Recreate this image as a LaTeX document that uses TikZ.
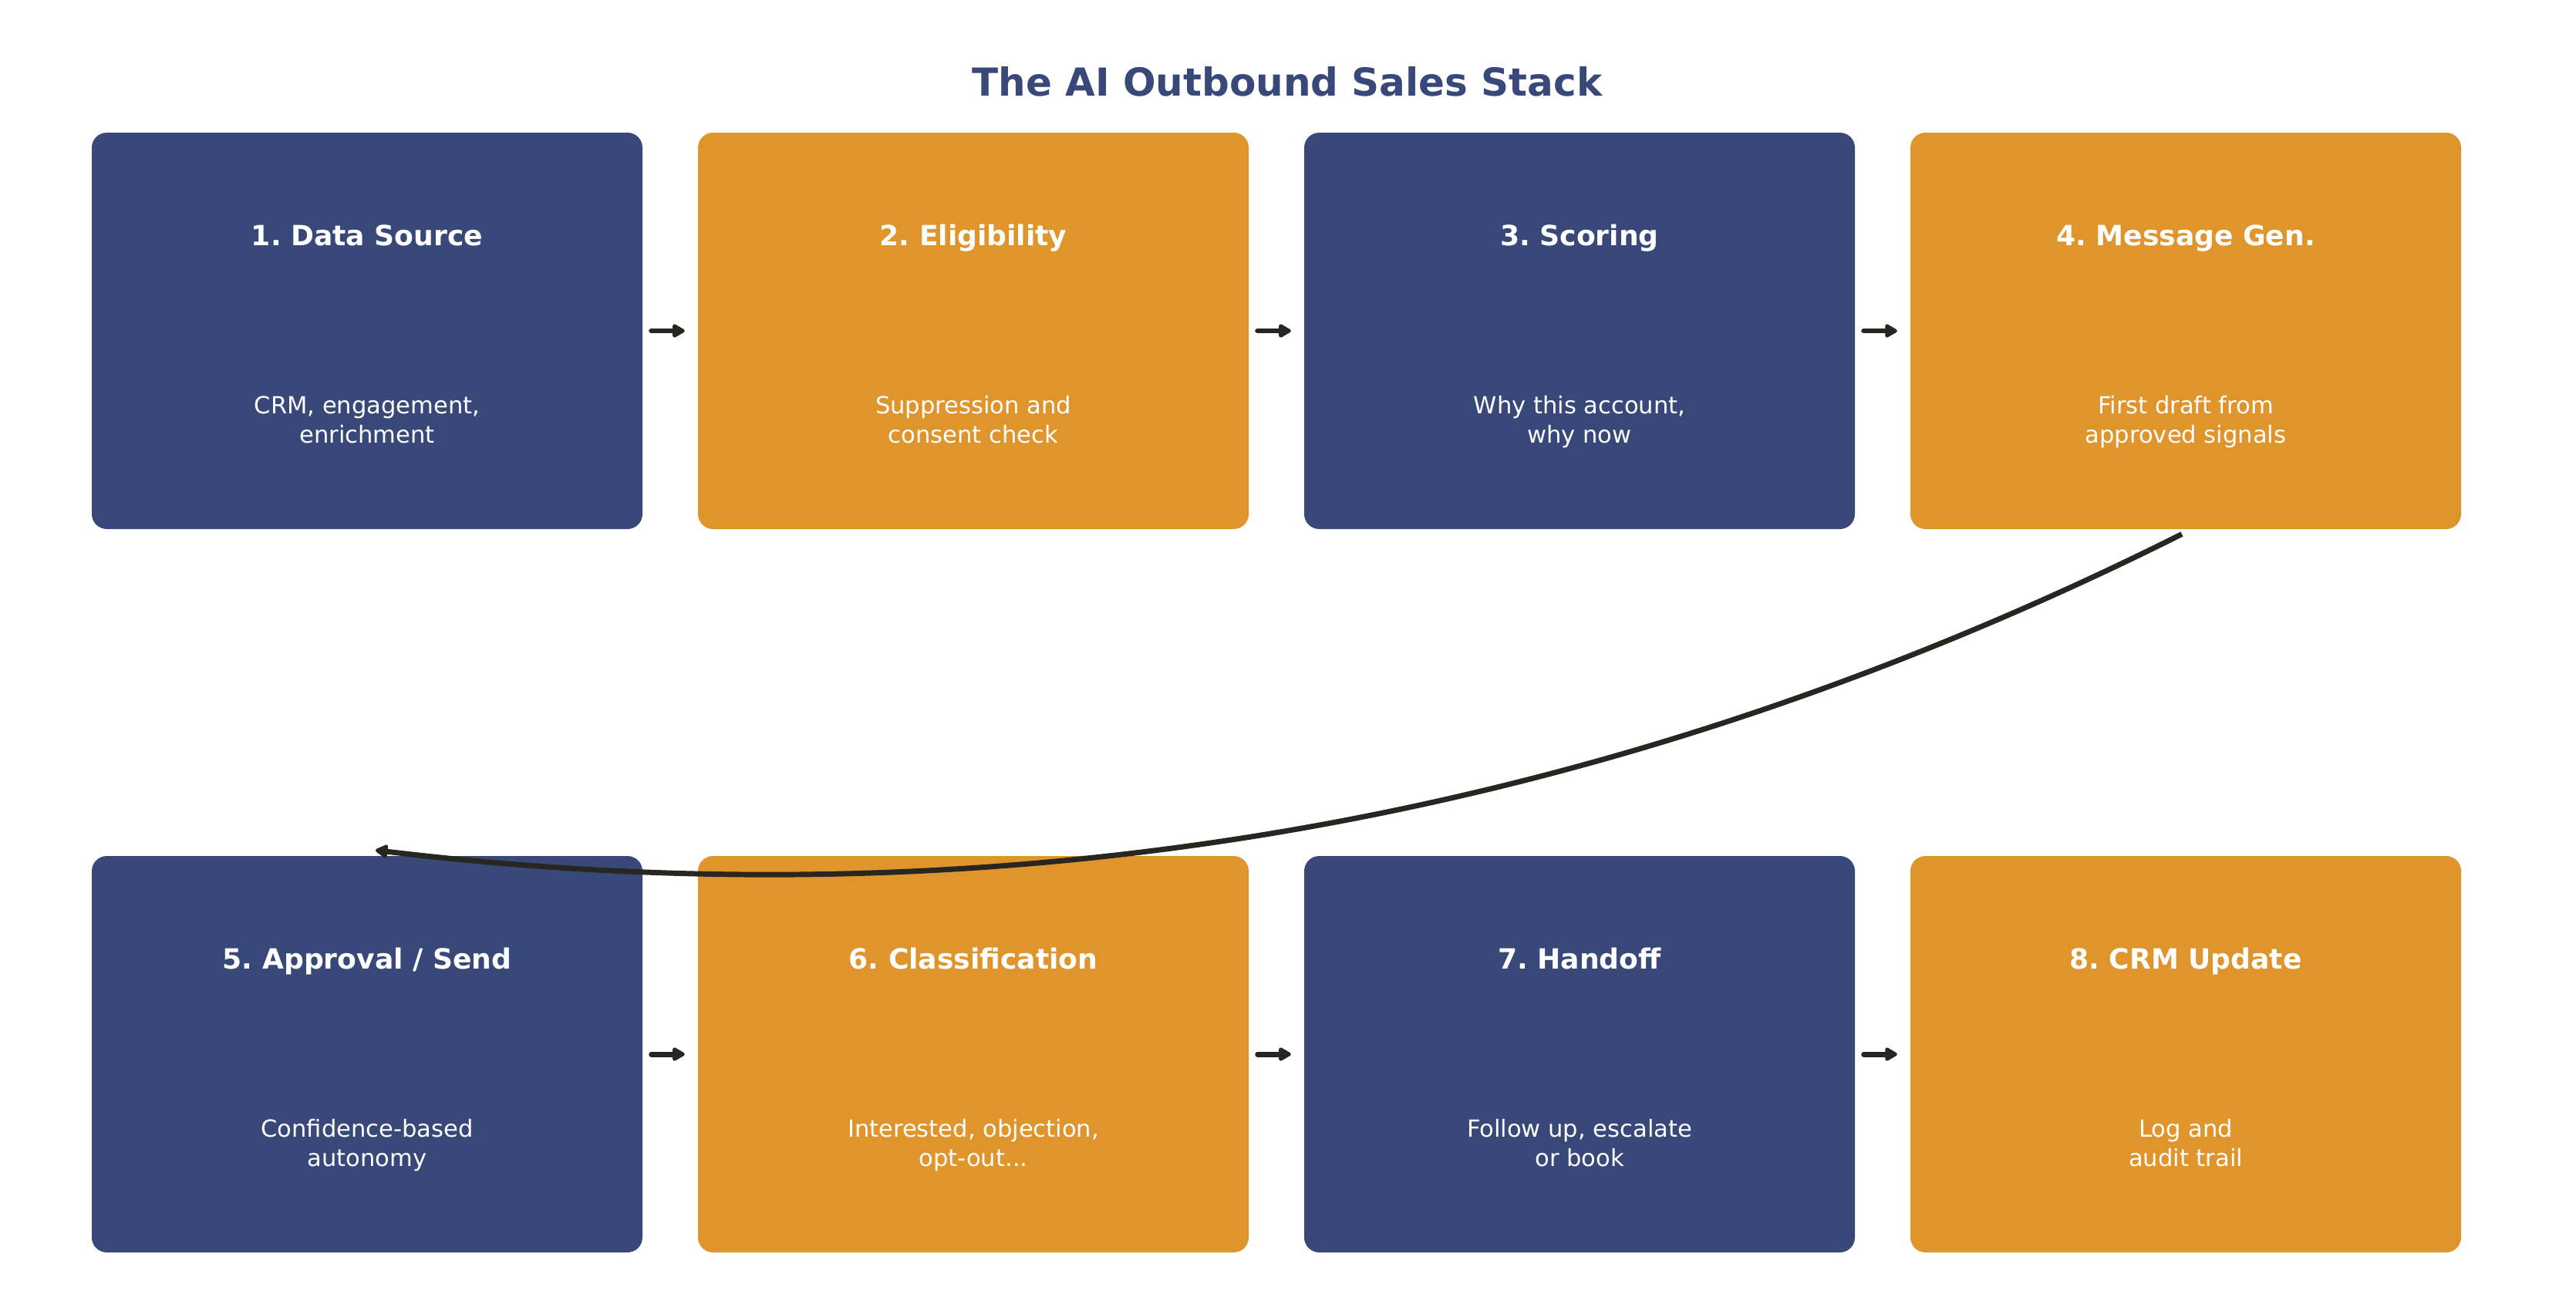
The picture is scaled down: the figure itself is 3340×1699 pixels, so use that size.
\documentclass[tikz,border=0pt]{standalone}
\usepackage{fontspec}
\setmainfont{DejaVu Sans}
\usetikzlibrary{arrows.meta,calc}
\definecolor{navy}{RGB}{55,72,121}
\definecolor{gold}{RGB}{223,149,44}
\definecolor{ink}{RGB}{40,38,32}
\frenchspacing
\begin{document}
\begin{tikzpicture}[x=0.36pt,y=-0.36pt,
  card/.style={rectangle,rounded corners=7pt,minimum width=257.04pt,minimum height=185.04pt,inner sep=0pt,draw=none},
  navycard/.style={card,fill=navy},
  goldcard/.style={card,fill=gold},
  head/.style={text=white,font=\bfseries\fontsize{13}{15}\selectfont,inner sep=0pt},
  desc/.style={text=white,font=\fontsize{11}{13.7}\selectfont,align=center,inner sep=0pt},
  tipstyle/.style={-{Triangle[length=6.5pt,width=7pt,round]}},
  arr/.style={draw=ink,line width=2.5pt,line cap=round,tipstyle,shorten <=4pt,shorten >=6pt},
  bigarr/.style={draw=ink,line width=2.5pt,tipstyle}]
\useasboundingbox (0,0) rectangle (3340,1699);
\node[text=navy,font=\bfseries\fontsize{18}{21}\selectfont,inner sep=0pt] (title) at (1669,106) {The AI Outbound Sales Stack};
% top row
\node[navycard] (b1) at (476,429) {};
\node[goldcard] (b2) at (1262,429) {};
\node[navycard] (b3) at (2048,429) {};
\node[goldcard] (b4) at (2834,429) {};
% bottom row
\node[navycard] (b5) at (476,1367) {};
\node[goldcard] (b6) at (1262,1367) {};
\node[navycard] (b7) at (2048,1367) {};
\node[goldcard] (b8) at (2834,1367) {};
% texts
\node[head] (h1) at ($(b1)+(0,-119)$) {\strut 1. Data Source};
\node[desc] (d1) at ($(b1)+(0,119)$) {\strut CRM, engagement,\\\strut enrichment};
\node[head] (h2) at ($(b2)+(0,-119)$) {\strut 2. Eligibility};
\node[desc] (d2) at ($(b2)+(0,119)$) {\strut Suppression and\\\strut consent check};
\node[head] (h3) at ($(b3)+(0,-119)$) {\strut 3. Scoring};
\node[desc] (d3) at ($(b3)+(0,119)$) {\strut Why this account,\\\strut why now};
\node[head] (h4) at ($(b4)+(0,-119)$) {\strut 4. Message Gen.};
\node[desc] (d4) at ($(b4)+(0,119)$) {\strut First draft from\\\strut approved signals};
\node[head] (h5) at ($(b5)+(0,-119)$) {\strut 5. Approval / Send};
\node[desc] (d5) at ($(b5)+(0,119)$) {\strut Confidence-based\\\strut autonomy};
\node[head] (h6) at ($(b6)+(0,-119)$) {\strut 6. Classification};
\node[desc] (d6) at ($(b6)+(0,119)$) {\strut Interested, objection,\\\strut opt-out...};
\node[head] (h7) at ($(b7)+(0,-119)$) {\strut 7. Handoff};
\node[desc] (d7) at ($(b7)+(0,119)$) {\strut Follow up, escalate\\\strut or book};
\node[head] (h8) at ($(b8)+(0,-119)$) {\strut 8. CRM Update};
\node[desc] (d8) at ($(b8)+(0,119)$) {\strut Log and\\\strut audit trail};
% short arrows
\draw[arr] (b1) -- (b2);
\draw[arr] (b2) -- (b3);
\draw[arr] (b3) -- (b4);
\draw[arr] (b5) -- (b6);
\draw[arr] (b6) -- (b7);
\draw[arr] (b7) -- (b8);
% long curved arrow
\coordinate (cs) at ([shift={(-5,6)}]b4.south);
\coordinate (ce) at ([shift={(11,-7)}]b5.north);
\draw[bigarr] (cs) .. controls (2089,1063) and (1308,1201) .. (ce);
\end{tikzpicture}
\end{document}
